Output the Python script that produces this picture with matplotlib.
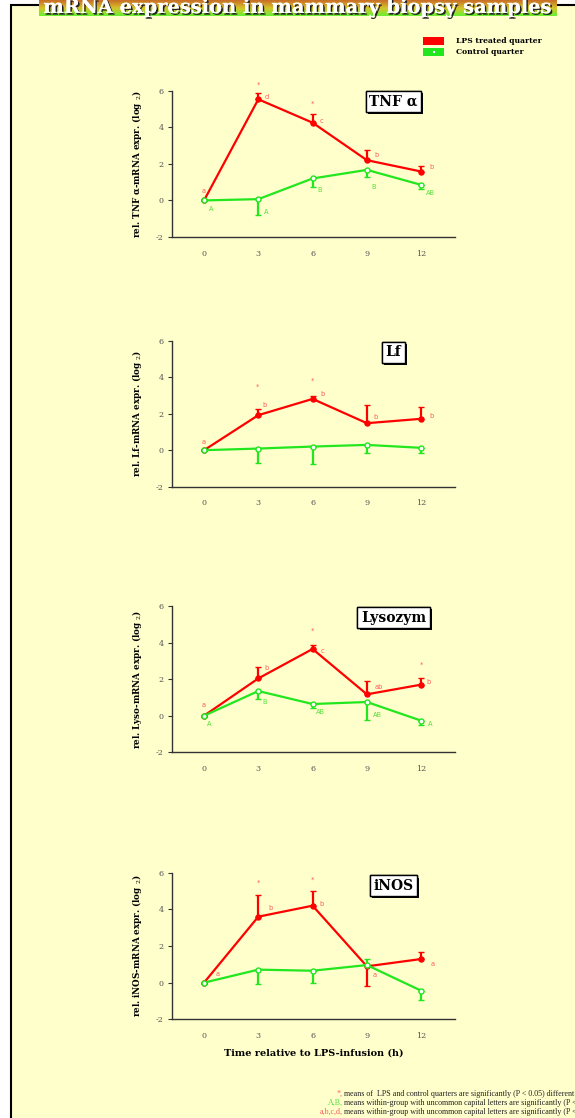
import numpy as np
import matplotlib
matplotlib.use("Agg")
import matplotlib.pyplot as plt
from matplotlib.patches import Rectangle
import matplotlib.patheffects as pe

plt.rcParams['font.family'] = ['DejaVu Serif']
plt.rcParams['mathtext.fontset'] = 'dejavuserif'
plt.rcParams['axes.unicode_minus'] = False

W, H = 575, 1118

hours = [0, 3, 6, 9, 12]
genes = ['TNF α', 'Lf', 'Lysozym', 'iNOS']
ylabels = ['rel. TNF α-mRNA expr. (log $_2$)',
           'rel. Lf-mRNA expr. (log $_2$)',
           'rel. Lyso-mRNA expr. (log $_2$)',
           'rel. iNOS-mRNA expr. (log $_2$)']

# means and signed standard errors (negative = bar drawn downward)
tnf_lps = [0, 5.53, 4.25, 2.20, 1.58]
tnf_lps_err = [0, 0.33, 0.47, 0.56, 0.31]
tnf_ctrl = [0, 0.07, 1.20, 1.67, 0.85]
tnf_ctrl_err = [0, -0.85, -0.49, -0.40, -0.25]

lf_lps = [0, 1.92, 2.81, 1.48, 1.72]
lf_lps_err = [0, 0.36, 0.18, 0.97, 0.65]
lf_ctrl = [0, 0.09, 0.20, 0.29, 0.13]
lf_ctrl_err = [0, -0.78, -0.93, -0.42, -0.26]

lyso_lps = [0, 2.04, 3.65, 1.17, 1.70]
lyso_lps_err = [0, 0.60, 0.24, 0.71, 0.36]
lyso_ctrl = [0, 1.35, 0.64, 0.75, -0.27]
lyso_ctrl_err = [0, -0.42, -0.22, -0.97, -0.22]

inos_lps = [0, 3.60, 4.20, 0.89, 1.29]
inos_lps_err = [0, 1.16, 0.80, -1.05, 0.38]
inos_ctrl = [0, 0.71, 0.65, 0.96, -0.44]
inos_ctrl_err = [0, -0.76, -0.69, 0.33, -0.49]

# significance letters: (hour, y, text)
tnf_lps_marks = [(0, 0.5, 'a'), (3, 6.3, '*'), (3.46, 5.67, 'd'), (6, 5.3, '*'),
                 (6.5, 4.33, 'c'), (9.54, 2.47, 'b'), (12.58, 1.82, 'b')]
tnf_ctrl_marks = [(0.37, -0.47, 'A'), (3.46, -0.64, 'A'), (6.37, 0.55, 'B'),
                  (9.39, 0.75, 'B'), (12.52, 0.42, 'AB')]
lf_lps_marks = [(0, 0.44, 'a'), (2.96, 3.45, '*'), (3.33, 2.46, 'b'), (6, 3.81, '*'),
                (6.52, 3.08, 'b'), (9.46, 1.81, 'b'), (12.59, 1.88, 'b')]
lf_ctrl_marks = []
lyso_lps_marks = [(0, 0.57, 'a'), (3.44, 2.61, 'b'), (6, 4.65, '*'), (6.55, 3.52, 'c'),
                  (9.68, 1.57, 'ab'), (12, 2.79, '*'), (12.41, 1.86, 'b')]
lyso_ctrl_marks = [(0.28, -0.46, 'A'), (3.33, 0.77, 'B'), (6.46, 0.22, 'AB'),
                   (9.56, 0.04, 'AB'), (12.5, -0.46, 'A')]
inos_lps_marks = [(0.75, 0.45, 'a'), (3, 5.45, '*'), (3.7, 4.07, 'b'), (6, 5.64, '*'),
                  (6.5, 4.29, 'b'), (9.44, 0.4, 'a'), (12.66, 1.0, 'a')]
inos_ctrl_marks = []

lps_series = [(tnf_lps, tnf_lps_err), (lf_lps, lf_lps_err),
              (lyso_lps, lyso_lps_err), (inos_lps, inos_lps_err)]
ctrl_series = [(tnf_ctrl, tnf_ctrl_err), (lf_ctrl, lf_ctrl_err),
               (lyso_ctrl, lyso_ctrl_err), (inos_ctrl, inos_ctrl_err)]
lps_marks = [tnf_lps_marks, lf_lps_marks, lyso_lps_marks, inos_lps_marks]
ctrl_marks = [tnf_ctrl_marks, lf_ctrl_marks, lyso_ctrl_marks, inos_ctrl_marks]

RED = '#ff0000'
GREEN = '#22e61e'
RED_TXT = '#ff5a5a'
GREEN_TXT = '#55e03a'
BG = '#ffffcc'

fig = plt.figure(figsize=(W / 100, H / 100), dpi=100)
fig.patch.set_facecolor('white')

# pale panel with black frame on the left and top
frame = Rectangle((10.5 / W, -0.05), 1.2, 1.05 - 5.0 / H, transform=fig.transFigure,
                  facecolor=BG, edgecolor='black', linewidth=1.5, zorder=-5)
fig.patches.append(frame)

# title banner with gradient
tax = fig.add_axes([39 / W, 1 - 16 / H, 518 / W, 16 / H])
top = np.array([200, 110, 40]) / 255
mid = np.array([215, 195, 40]) / 255
bot = np.array([105, 240, 50]) / 255
t = np.linspace(0, 1, 32)[:, None]
grad = np.where(t < 0.5, top + (mid - top) * (t / 0.5), mid + (bot - mid) * ((t - 0.5) / 0.5))
tax.imshow(grad[:, None, :].repeat(2, axis=1), aspect='auto', extent=[0, 1, 0, 1])
tax.axis('off')
fig.text(298 / W, 1 - 13 / H, 'mRNA expression in mammary biopsy samples',
         ha='center', va='baseline', fontsize=14, fontweight='bold', color='white',
         path_effects=[pe.withSimplePatchShadow(offset=(1.2, -1.2), shadow_rgbFace='#222222', alpha=1.0),
                       pe.Normal()])

# legend
for yy, col, lab in [(37, RED, 'LPS treated quarter'), (48, GREEN, 'Control quarter')]:
    fig.patches.append(Rectangle((423 / W, 1 - (yy + 8) / H), 21 / W, 8 / H,
                                 transform=fig.transFigure, facecolor=col,
                                 edgecolor='none', zorder=2))
    fig.text(456 / W, 1 - (yy + 4) / H, lab, fontsize=5.5, fontweight='bold',
             va='center', ha='left')
fig.patches.append(Rectangle((433 / W, 1 - 52.5 / H), 1.5 / W, 1.5 / H,
                             transform=fig.transFigure, facecolor='white',
                             edgecolor='none', zorder=3))

panel_px = [(90.7, 237), (340.7, 486.7), (606, 752.3), (872.7, 1019.3)]
box_y = [5.41, 5.36, 5.37, 5.28]

for i, (ptop, pbot) in enumerate(panel_px):
    ax = fig.add_axes([172 / W, 1 - pbot / H, 283 / W, (pbot - ptop) / H])
    ax.set_facecolor('none')
    ax.set_xlim(-1.77, 13.87)
    ax.set_ylim(-2, 6)
    ax.set_xticks(hours)
    ax.set_yticks([-2, 0, 2, 4, 6])
    for s in ['top', 'right']:
        ax.spines[s].set_visible(False)
    for s in ['left', 'bottom']:
        ax.spines[s].set_color('#333333')
        ax.spines[s].set_linewidth(1.0)
    ax.tick_params(axis='y', length=3, width=0.8, pad=3, labelsize=5.8,
                   labelcolor='#555555', color='#333333')
    ax.tick_params(axis='x', length=0, pad=9, labelsize=5.8, labelcolor='#555555')

    for (vals, errs), col, face in [(lps_series[i], RED, RED), (ctrl_series[i], GREEN, 'white')]:
        lower = [max(-e, 0) for e in errs]
        upper = [max(e, 0) for e in errs]
        ax.errorbar(hours, vals, yerr=[lower, upper], color=col, linewidth=1.6,
                    elinewidth=1.6, capsize=2.2, capthick=1.6, marker='o',
                    markersize=3.6, markerfacecolor=face, markeredgecolor=col,
                    markeredgewidth=1.0, zorder=3)

    for marks, col in [(lps_marks[i], RED_TXT), (ctrl_marks[i], GREEN_TXT)]:
        for mx, my, txt in marks:
            ax.text(mx, my, txt, color=col, fontsize=4.8, ha='center', va='center',
                    family='DejaVu Sans')

    ax.set_ylabel(ylabels[i], fontsize=6.3, fontweight='bold')
    ax.yaxis.set_label_coords(-0.1, 0.5)

    lbl = ax.text(10.47, box_y[i], genes[i], fontsize=10, fontweight='bold',
                  ha='center', va='center', zorder=5,
                  bbox=dict(boxstyle='square,pad=0.25', facecolor='white',
                            edgecolor='black', linewidth=1.0))
    lbl.get_bbox_patch().set_path_effects(
        [pe.withSimplePatchShadow(offset=(1.5, -1.5), shadow_rgbFace='black', alpha=1.0),
         pe.Normal()])

    if i == 3:
        ax.set_xlabel('Time relative to LPS-infusion (h)', fontsize=7, fontweight='bold',
                      labelpad=6)

# footnotes, running off the right edge of the page
notes = [('*,', RED_TXT, 'means of  LPS and control quarters are significantly (P < 0.05) different'),
         ('A,B,', GREEN_TXT, 'means within-group with uncommon capital letters are significantly (P < 0.05) different'),
         ('a,b,c,d,', RED_TXT, 'means within-group with uncommon capital letters are significantly (P < 0.05) different')]
for k, (key, col, txt) in enumerate(notes):
    yy = 1 - (1094 + 9 * k) / H
    fig.text(342.5 / W, yy, key, color=col, fontsize=5.8, family='Liberation Serif',
             ha='right', va='center')
    fig.text(344 / W, yy, txt, color='#222222', fontsize=5.8, family='Liberation Serif',
             ha='left', va='center')

fig.savefig('out.png', dpi=100)
